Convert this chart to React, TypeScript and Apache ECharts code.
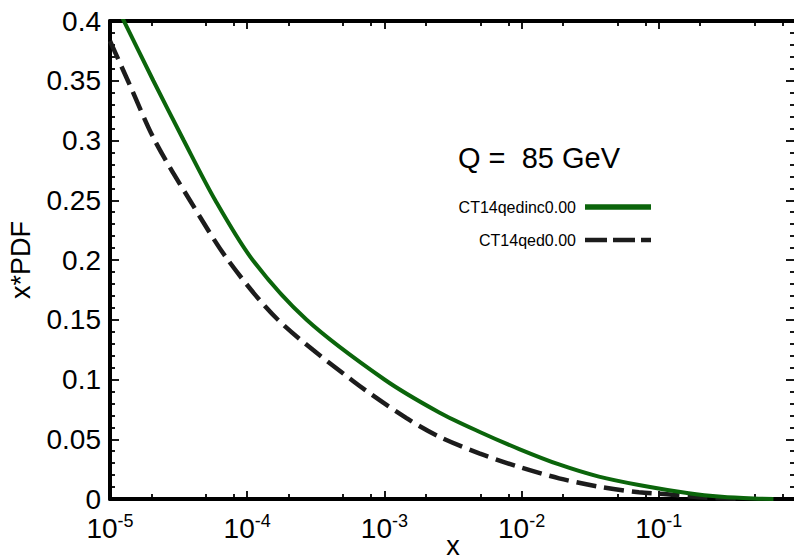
import React, { useEffect, useRef } from "react";
import * as echarts from "echarts";

// ---- data ----
const xRange = [1e-5, 1];
const yRange = [0, 0.4];
const yInterval = 0.05;

const seriesNames = ["CT14qedinc0.00", "CT14qed0.00"];

// CT14qedinc0.00 (solid green)
const greenX = [1e-5, 1.285e-5, 2.07e-5, 3.45e-5, 5.85e-5, 1.096e-4, 2.71e-4, 1e-3, 2.51e-3, 4.91e-3, 9.6e-3, 0.01875, 0.0366, 0.0716, 0.1652, 0.287, 0.533, 0.685];
const greenY = [0.4234, 0.3983, 0.35, 0.3, 0.25, 0.2, 0.15, 0.1, 0.0724, 0.0563, 0.0418, 0.0289, 0.0187, 0.0117, 0.0048, 0.0019, 0.0003, 0.0];

// CT14qed0.00 (dashed black)
const dashX = [1e-5, 1.358e-5, 2.12e-5, 3.82e-5, 7.24e-5, 1.675e-4, 5.87e-4, 1.44e-3, 2.51e-3, 4.91e-3, 9.6e-3, 0.01875, 0.0366, 0.0716, 0.1245, 0.1954, 0.415];
const dashY = [0.3833, 0.3494, 0.3, 0.25, 0.2, 0.15, 0.099, 0.0678, 0.0521, 0.0382, 0.0268, 0.0173, 0.0103, 0.0056, 0.0036, 0.0014, 0.0];

const decades = [-5, -4, -3, -2, -1];
const minorFactors = [2, 5, 8];

const titleText = "Q =  85 GeV";
const xName = "x";
const yName = "x*PDF";

const GREEN = "#0b650b";
const BLACK = "#1c1c1c";
const FONT = "'Liberation Sans', Arial, Helvetica, sans-serif";

export default function App() {
  const ref = useRef<HTMLDivElement>(null);

  useEffect(() => {
    if (!ref.current) return;
    const chart = echarts.init(ref.current, null, { renderer: "svg" });

    const minorLog: number[] = [];
    decades.forEach((d) => minorFactors.forEach((f) => minorLog.push(d + Math.log10(f))));

    const lineAxisStyle = { show: true, onZero: false, lineStyle: { color: "#000", width: 4 } };
    const tickStyle = { color: "#000", width: 1.8 };

    const option: any = {
      animation: false,
      backgroundColor: "#fff",
      grid: { left: 110, right: -2, top: 21, bottom: 60, containLabel: false, outerBoundsMode: "none" },
      xAxis: [
        {
          type: "log",
          logBase: 10,
          min: xRange[0],
          max: xRange[1],
          position: "bottom",
          name: xName,
          nameLocation: "middle",
          nameGap: 33,
          nameMoveOverlap: false,
          nameTextStyle: { fontSize: 27, color: "#000", fontFamily: FONT },
          axisLine: lineAxisStyle,
          axisTick: { show: true, inside: true, length: 8, lineStyle: tickStyle },
          minorTick: { show: false },
          splitLine: { show: false },
          axisLabel: {
            show: true,
            margin: 13,
            showMinLabel: true,
            showMaxLabel: true,
            hideOverlap: false,
            formatter: (v: number) => {
              const e = Math.round(Math.log10(v));
              if (e >= 0) return "";
              return `{a|10}{b|${e}}`;
            },
            rich: {
              a: { fontSize: 28, lineHeight: 32, color: "#000", fontFamily: FONT },
              b: { fontSize: 18, lineHeight: 9, verticalAlign: "top", color: "#000", fontFamily: FONT },
            },
          },
        },
        {
          type: "value",
          min: -5,
          max: 0,
          position: "bottom",
          axisLine: { show: false, onZero: false },
          axisTick: { show: true, inside: true, length: 5, customValues: minorLog, lineStyle: tickStyle },
          axisLabel: { show: false },
          splitLine: { show: false },
        },
        {
          type: "log",
          logBase: 10,
          min: xRange[0],
          max: xRange[1],
          position: "top",
          axisLine: lineAxisStyle,
          axisTick: { show: true, inside: true, length: 8, lineStyle: tickStyle },
          axisLabel: { show: false },
          splitLine: { show: false },
        },
        {
          type: "value",
          min: -5,
          max: 0,
          position: "top",
          axisLine: { show: false, onZero: false },
          axisTick: { show: true, inside: true, length: 5, customValues: minorLog, lineStyle: tickStyle },
          axisLabel: { show: false },
          splitLine: { show: false },
        },
      ],
      yAxis: [
        {
          type: "value",
          min: yRange[0],
          max: yRange[1],
          interval: yInterval,
          position: "left",
          name: yName,
          nameLocation: "middle",
          nameGap: 76,
          nameRotate: 90,
          nameMoveOverlap: false,
          nameTextStyle: { fontSize: 27, color: "#000", fontFamily: FONT },
          axisLine: lineAxisStyle,
          axisTick: { show: true, inside: true, length: 9, lineStyle: tickStyle },
          minorTick: { show: true, splitNumber: 5, length: 5, lineStyle: tickStyle },
          splitLine: { show: false },
          minorSplitLine: { show: false },
          axisLabel: {
            show: true,
            margin: 9,
            fontSize: 28,
            color: "#000",
            fontFamily: FONT,
            showMinLabel: true,
            showMaxLabel: true,
            hideOverlap: false,
          },
        },
        {
          type: "value",
          min: yRange[0],
          max: yRange[1],
          interval: yInterval,
          position: "right",
          axisLine: lineAxisStyle,
          axisTick: { show: true, inside: true, length: 10, lineStyle: tickStyle },
          minorTick: { show: true, splitNumber: 5, length: 6, lineStyle: tickStyle },
          splitLine: { show: false },
          axisLabel: { show: false },
        },
      ],
      series: [
        {
          name: seriesNames[0],
          type: "line",
          xAxisIndex: 0,
          yAxisIndex: 0,
          data: greenX.map((x, i) => [x, greenY[i]]),
          symbol: "none",
          smooth: 0.3,
          clip: true,
          lineStyle: { color: GREEN, width: 4 },
          z: 3,
        },
        {
          name: seriesNames[1],
          type: "line",
          xAxisIndex: 0,
          yAxisIndex: 0,
          data: dashX.map((x, i) => [x, dashY[i]]),
          symbol: "none",
          smooth: 0.3,
          clip: true,
          lineStyle: { color: BLACK, width: 4.5, type: [20, 8] },
          z: 2,
        },
      ],
      graphic: [
        {
          type: "text",
          x: 458,
          y: 158,
          style: { text: titleText, fontSize: 29, fontFamily: FONT, fill: "#000", align: "left", verticalAlign: "middle" },
        },
        {
          type: "text",
          x: 576,
          y: 207,
          style: { text: seriesNames[0], fontSize: 16, fontFamily: FONT, fill: "#000", align: "right", verticalAlign: "middle" },
        },
        {
          type: "text",
          x: 576,
          y: 240,
          style: { text: seriesNames[1], fontSize: 16, fontFamily: FONT, fill: "#000", align: "right", verticalAlign: "middle" },
        },
        {
          type: "line",
          shape: { x1: 585, y1: 207, x2: 651, y2: 207 },
          style: { stroke: GREEN, lineWidth: 5.5 },
        },
        {
          type: "line",
          shape: { x1: 585, y1: 240, x2: 651, y2: 240 },
          style: { stroke: BLACK, lineWidth: 4.5, lineDash: [22, 6] },
        },
      ],
    };

    chart.setOption(option);
    return () => chart.dispose();
  }, []);

  return (
    <div
      ref={ref}
      style={{ position: "fixed", left: 0, top: 0, width: 794, height: 559, background: "#fff" }}
    />
  );
}
